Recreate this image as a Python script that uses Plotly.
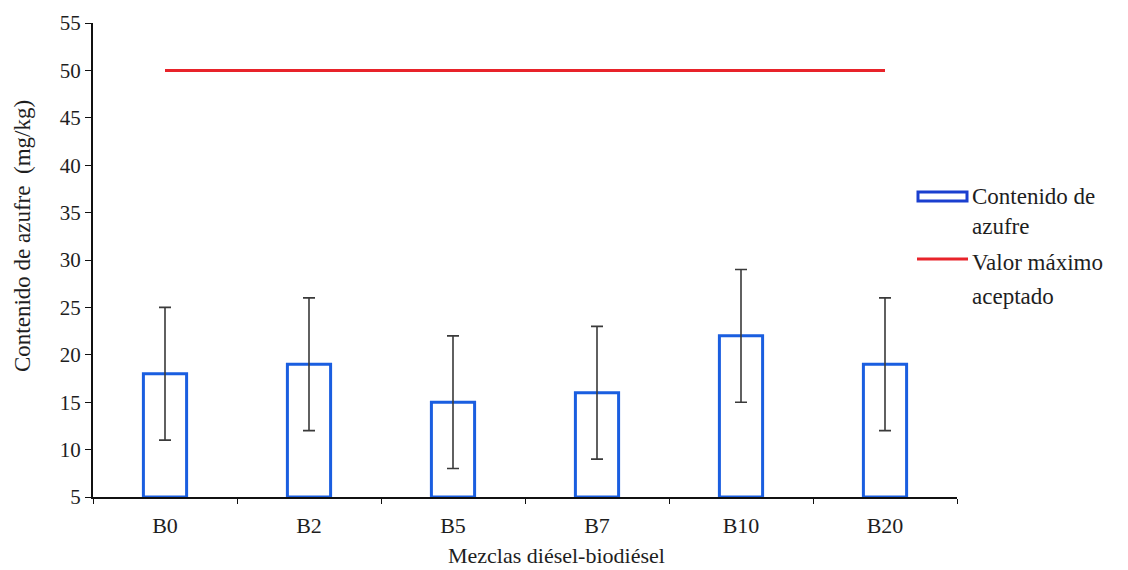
import plotly.graph_objects as go

categories = ["B0", "B2", "B5", "B7", "B10", "B20"]
sulfur = [18, 19, 15, 16, 22, 19]
sulfur_err = [7, 7, 7, 7, 7, 7]
max_value = [50, 50, 50, 50, 50, 50]
y_ticks = [5, 10, 15, 20, 25, 30, 35, 40, 45, 50, 55]
legend_lines = [["Contenido de", "azufre"], ["Valor máximo", "aceptado"]]

font_family = "Liberation Serif"
txt_color = "#1e1e1e"

fig = go.Figure()
fig.add_trace(go.Bar(
    x=categories, y=[v - 5 for v in sulfur], base=5,
    name="Contenido de azufre", showlegend=False,
    marker=dict(color="rgba(255,255,255,0)", line=dict(color="#1a5ee0", width=3)),
    width=0.3,
    error_y=dict(type="data", array=sulfur_err, color="#3a3a3a", thickness=1.6, width=6),
))
fig.add_trace(go.Scatter(
    x=categories, y=max_value, mode="lines",
    name="Valor máximo aceptado", showlegend=False,
    line=dict(color="#e8232a", width=3),
))

# manual legend (paper coords: x=(px-93)/864, y=(497-py)/474)
def px_x(p):
    return (p - 93) / 864

def px_y(p):
    return (497 - p) / 474

shapes = [
    dict(type="rect", xref="paper", yref="paper",
         x0=px_x(918), x1=px_x(967), y0=px_y(201), y1=px_y(192),
         line=dict(color="#1a3fcf", width=3), fillcolor="white"),
    dict(type="line", xref="paper", yref="paper",
         x0=px_x(917), x1=px_x(968), y0=px_y(259), y1=px_y(259),
         line=dict(color="#e8232a", width=3)),
]
line_y = [[197, 227], [262, 296]]
annotations = []
for lines, ys in zip(legend_lines, line_y):
    for t, yy in zip(lines, ys):
        annotations.append(dict(
            text=t, xref="paper", yref="paper", x=px_x(970), y=px_y(yy),
            xanchor="left", yanchor="middle", showarrow=False,
            font=dict(size=23, family=font_family, color=txt_color)))
annotations.append(dict(
    text="Mezclas diésel-biodiésel", xref="paper", yref="paper",
    x=px_x(556), y=px_y(555), xanchor="center", yanchor="middle", showarrow=False,
    font=dict(size=22, family=font_family, color=txt_color)))
annotations.append(dict(
    text="Contenido de azufre  (mg/kg)", xref="paper", yref="paper",
    x=px_x(23), y=px_y(236), xanchor="center", yanchor="middle", showarrow=False,
    textangle=-90,
    font=dict(size=23, family=font_family, color=txt_color)))

fig.update_layout(
    width=1128, height=570,
    margin=dict(l=93, r=171, t=23, b=73),
    plot_bgcolor="white", paper_bgcolor="white",
    font=dict(family=font_family, size=20, color=txt_color),
    showlegend=False,
    xaxis=dict(
        showline=True, linecolor="#111111", linewidth=2,
        ticks="outside", tickson="boundaries", ticklen=5, tickcolor="#111111",
        showgrid=False, tickfont=dict(size=22), ticklabelstandoff=8,
        range=[-0.5, 5.5],
    ),
    yaxis=dict(
        range=[5, 55], tickvals=y_ticks,
        showline=True, linecolor="#111111", linewidth=2,
        ticks="outside", ticklen=6, tickcolor="#111111",
        showgrid=False, zeroline=False, tickfont=dict(size=21),
    ),
    shapes=shapes,
    annotations=annotations,
)

fig.write_html("out.html")
